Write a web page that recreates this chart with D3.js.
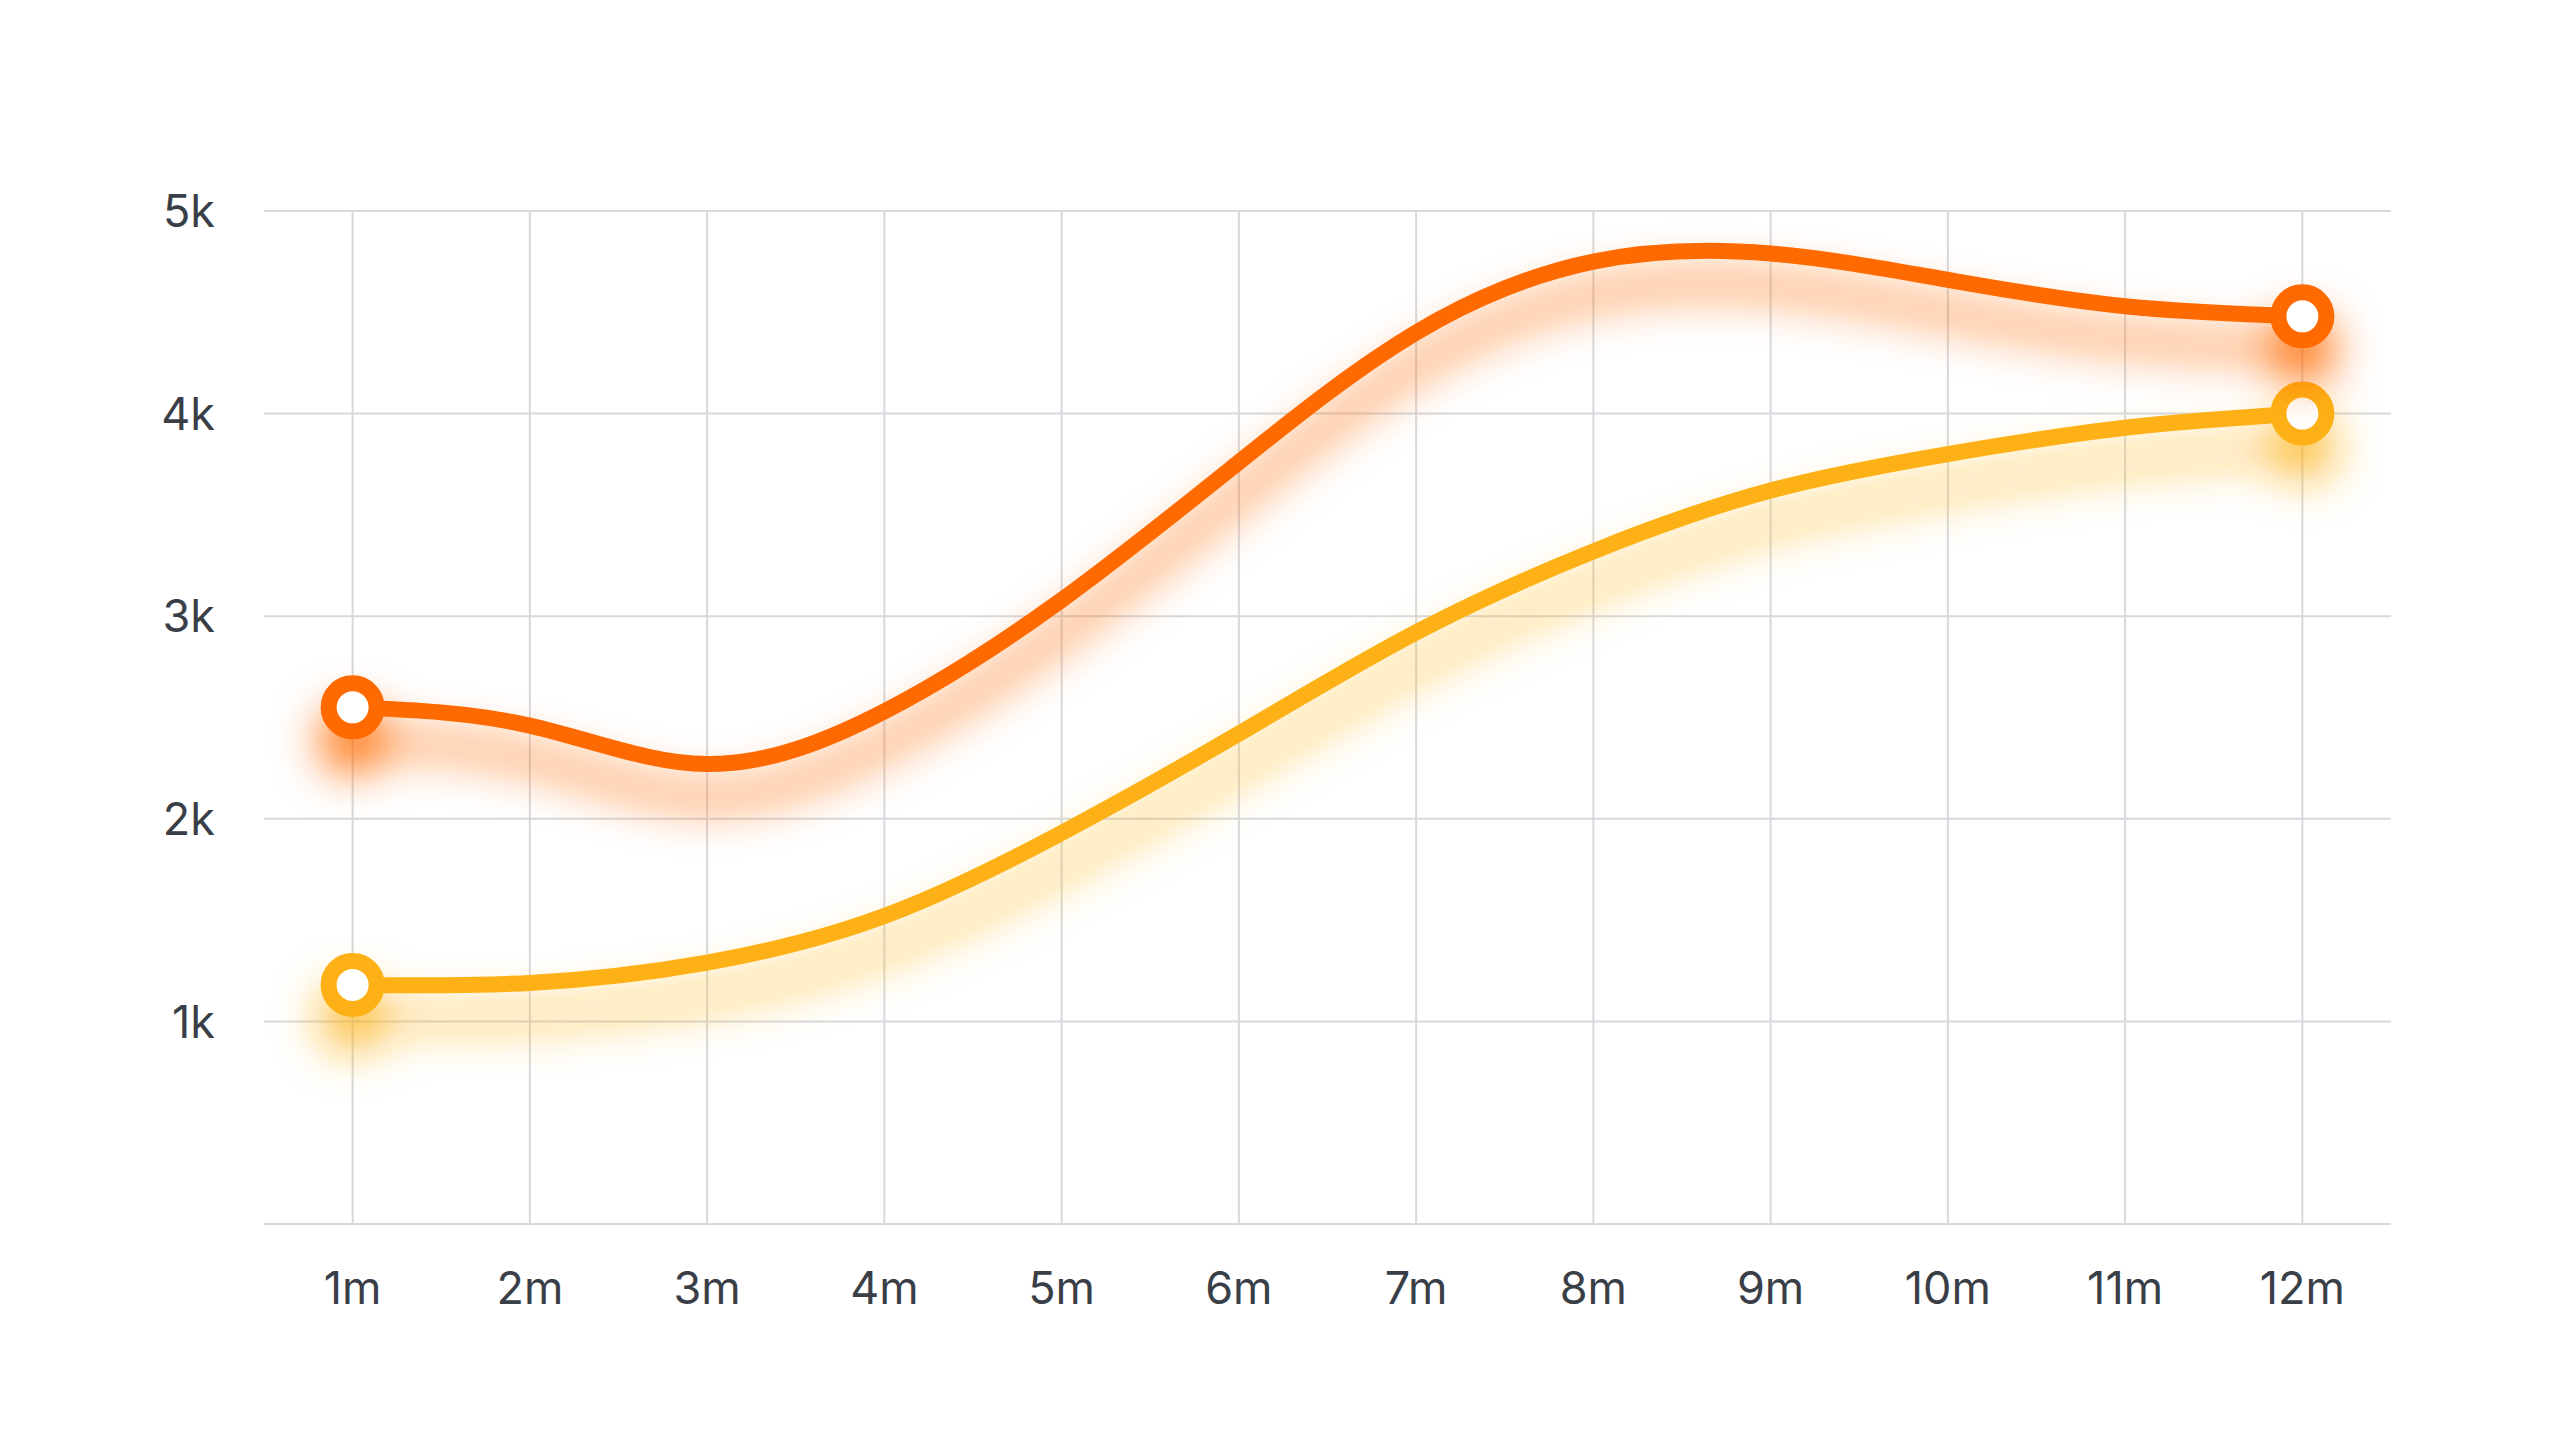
<!DOCTYPE html>
<html>
<head>
<meta charset="utf-8">
<script src="https://cdn.jsdelivr.net/npm/d3@7"></script>
<style>
  html, body { margin: 0; padding: 0; background: #ffffff; }
  svg { display: block; font-family: Inter, "Noto Sans", sans-serif; }
</style>
</head>
<body>
<svg id="chart"></svg>
<script>
const width = 2560
const height = 1429

// months along the x axis
const months = ['1m', '2m', '3m', '4m', '5m', '6m', '7m', '8m', '9m', '10m', '11m', '12m']
// values in thousands
const seriesOrange = [2.55, 2.46, 2.27, 2.53, 3.08, 3.76, 4.40, 4.75, 4.79, 4.66, 4.53, 4.48]
const seriesYellow = [1.18, 1.19, 1.29, 1.52, 1.93, 2.42, 2.92, 3.32, 3.62, 3.80, 3.93, 4.00]
const yTicks = [1, 2, 3, 4, 5]
const yTickLabels = ['1k', '2k', '3k', '4k', '5k']

const series = [
  { name: 'yellow', values: seriesYellow, color: '#fdb112', glow: 0.9 },
  { name: 'orange', values: seriesOrange, color: '#ff6a03', glow: 1 }
]

const plotLeft = 264
const plotRight = 2391
const plotTop = 211
const plotBottom = 1224

const svg = d3.select('#chart')
    .attr('width', width)
    .attr('height', height)

let xScale = d3.scalePoint()
                .domain(months)
                .range([plotLeft, plotRight])
                .padding(0.5)

let yScale = d3.scaleLinear()
                .domain([0, 5])
                .range([plotBottom, plotTop])

// soft coloured glow under each line
const defs = svg.append('defs')
series.forEach(s => {
  defs.append('filter')
      .attr('id', 'glow-' + s.name)
      .attr('filterUnits', 'userSpaceOnUse')
      .attr('x', 0).attr('y', 0)
      .attr('width', width).attr('height', height)
    .append('feDropShadow')
      .attr('dx', 0)
      .attr('dy', 33)
      .attr('stdDeviation', 23)
      .attr('flood-color', s.color)
      .attr('flood-opacity', s.glow)
})

// grid: horizontal lines
svg.append('g')
  .selectAll('line')
  .data([0].concat(yTicks))
  .enter()
  .append('line')
    .attr('x1', plotLeft)
    .attr('x2', plotRight)
    .attr('y1', d => yScale(d))
    .attr('y2', d => yScale(d))
    .attr('stroke', '#d6d9dd')
    .attr('stroke-width', 2)

// grid: vertical lines
svg.append('g')
  .selectAll('line')
  .data(months)
  .enter()
  .append('line')
    .attr('x1', d => xScale(d))
    .attr('x2', d => xScale(d))
    .attr('y1', yScale(5))
    .attr('y2', yScale(0))
    .attr('stroke', '#d6d9dd')
    .attr('stroke-width', 2)

// y labels
svg.append('g')
  .selectAll('text')
  .data(yTicks)
  .enter()
  .append('text')
    .attr('x', 215)
    .attr('y', d => yScale(d))
    .attr('dy', '0.36em')
    .attr('text-anchor', 'end')
    .attr('font-size', 45)
    .attr('fill', '#3a3f47')
    .text((d, i) => yTickLabels[i])

// x labels
svg.append('g')
  .selectAll('text')
  .data(months)
  .enter()
  .append('text')
    .attr('x', d => xScale(d))
    .attr('y', 1288)
    .attr('dy', '0.36em')
    .attr('text-anchor', 'middle')
    .attr('font-size', 45)
    .attr('fill', '#3a3f47')
    .text(d => d)

let line = d3.line()
              .x((d, i) => xScale(months[i]))
              .y(d => yScale(d))
              .curve(d3.curveNatural)

series.forEach(s => {
  const g = svg.append('g')
      .attr('filter', 'url(#glow-' + s.name + ')')

  g.append('path')
      .attr('d', line(s.values))
      .attr('fill', 'none')
      .attr('stroke', s.color)
      .attr('stroke-width', 16)
      .attr('stroke-linecap', 'round')

  // hollow markers at both ends
  const ends = [0, s.values.length - 1]
  g.selectAll('circle')
    .data(ends)
    .enter()
    .append('circle')
      .attr('cx', i => xScale(months[i]))
      .attr('cy', i => yScale(s.values[i]))
      .attr('r', 24)
      .attr('fill', '#ffffff')
      .attr('stroke', s.color)
      .attr('stroke-width', 16)
})
</script>
</body>
</html>
